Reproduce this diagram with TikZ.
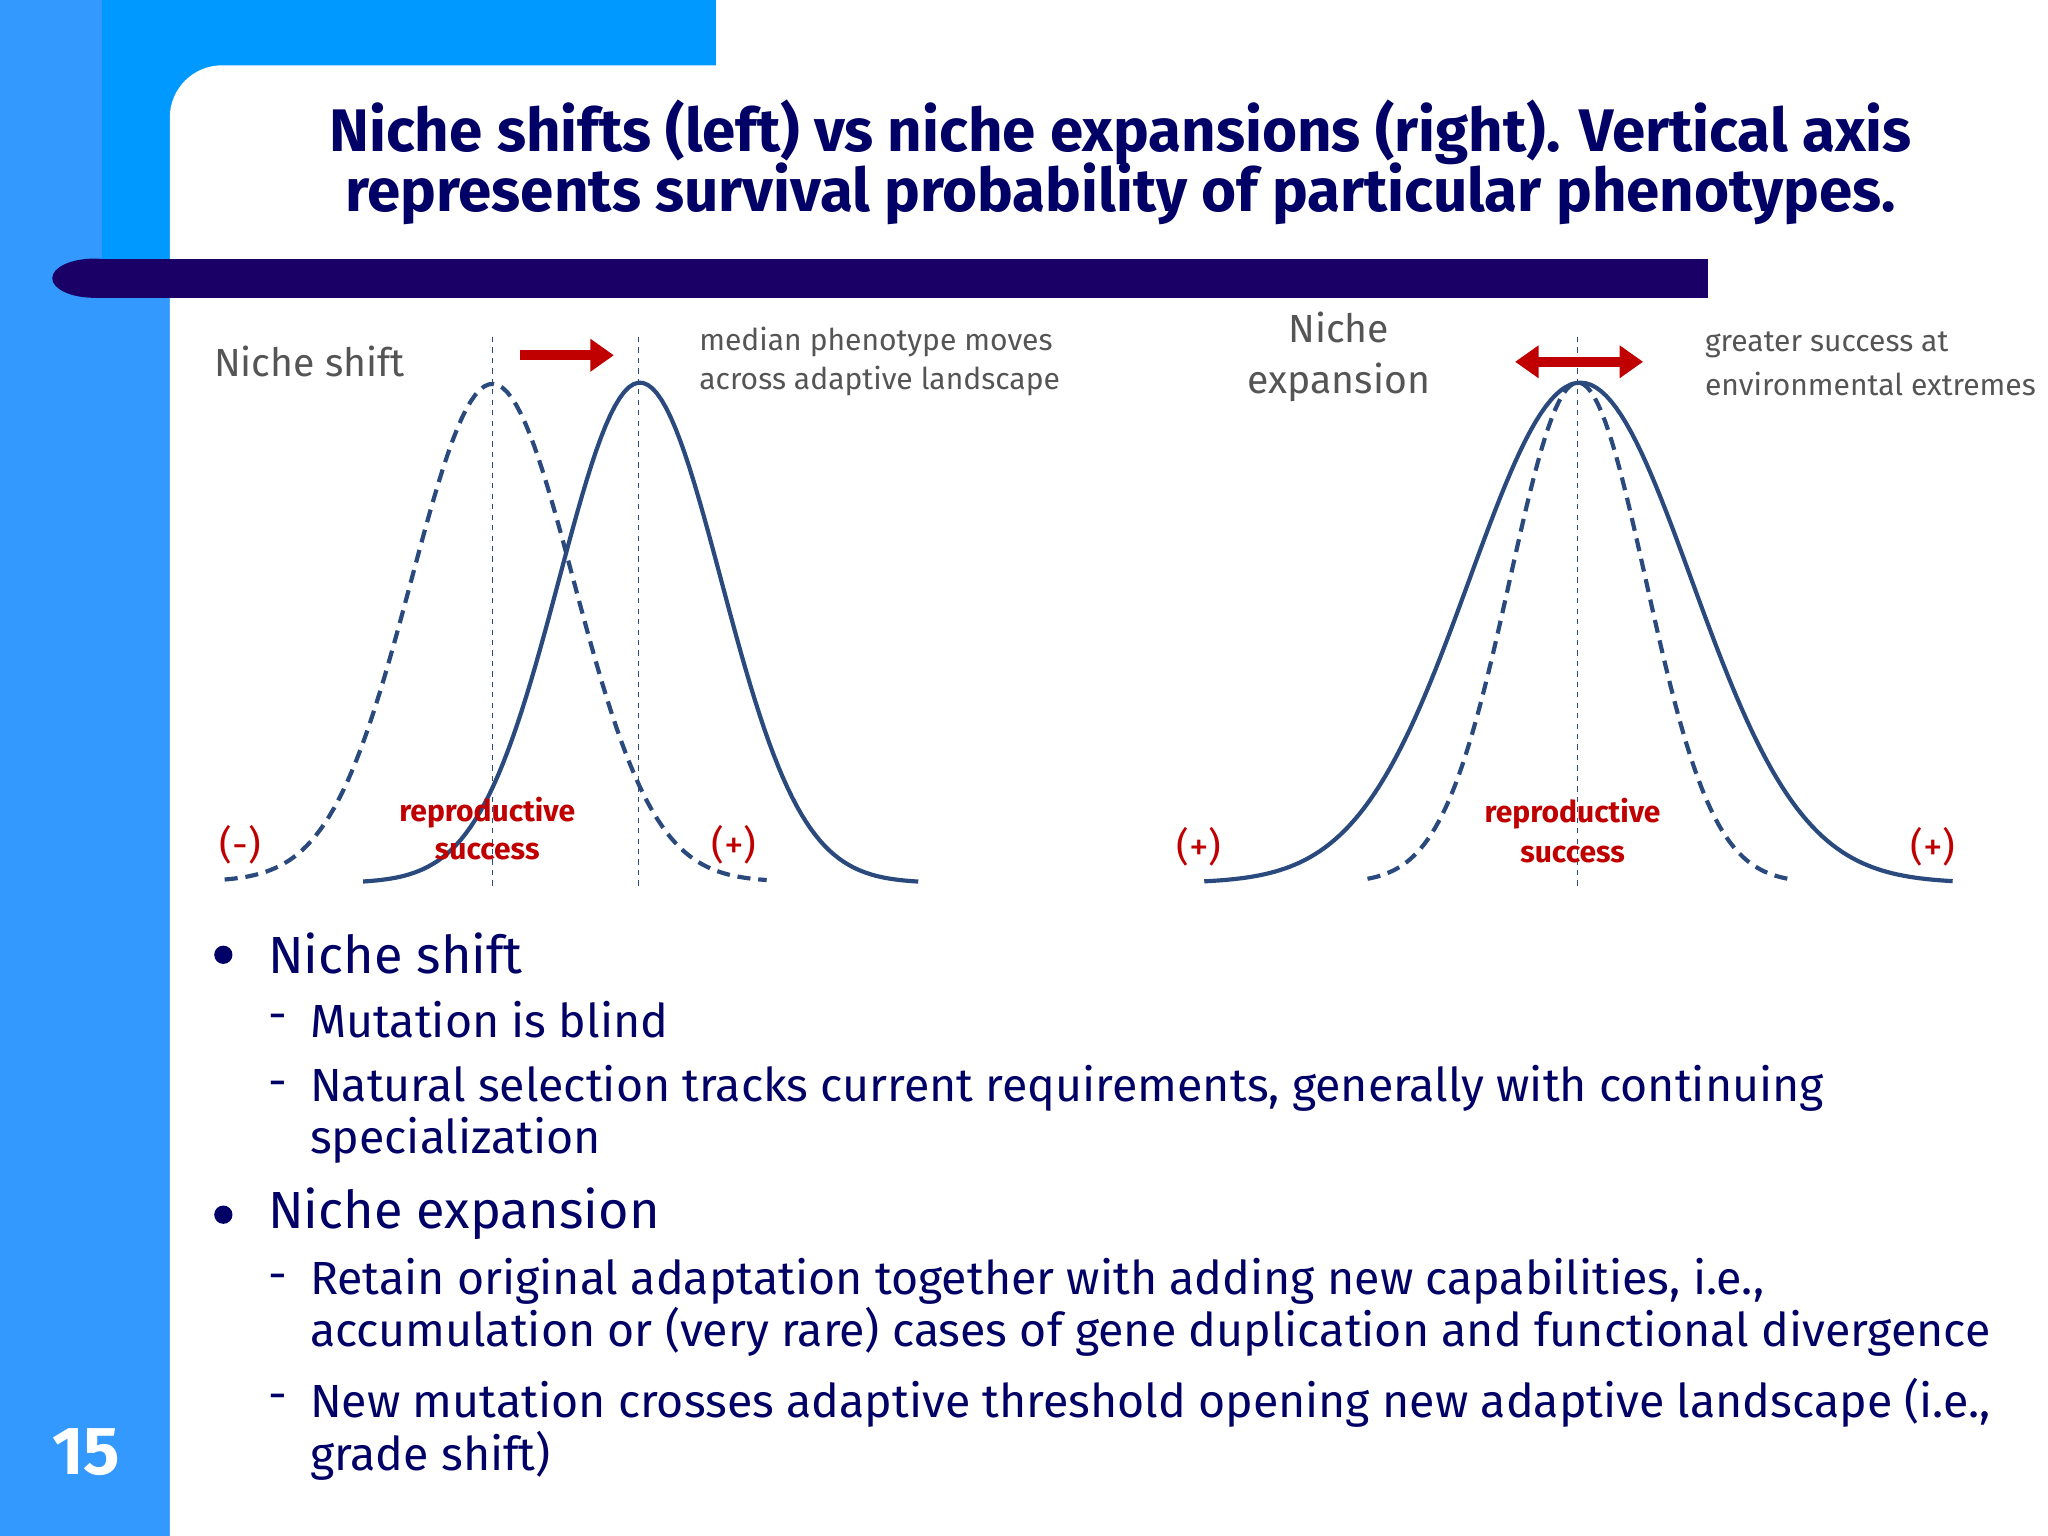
\documentclass[tikz,border=0pt]{standalone}
\usepackage{fontspec}
\setmainfont{Fira Sans}
\usetikzlibrary{arrows.meta}
\definecolor{blA}{HTML}{3399FF}
\definecolor{blB}{HTML}{0099FF}
\definecolor{navy}{HTML}{1A0066}
\definecolor{curve}{HTML}{2A4A7E}
\definecolor{txt}{HTML}{000066}
\definecolor{lbl}{HTML}{555555}
\definecolor{rs}{HTML}{C00000}
\tikzset{
 lab/.style={text=lbl,font=\fontsize{11.5}{14}\selectfont,anchor=west,inner sep=0},
 big/.style={text=lbl,font=\fontsize{15}{18}\selectfont,inner sep=0},
 rep/.style={text=rs,font=\bfseries\fontsize{11.5}{14}\selectfont,inner sep=0},
 sgn/.style={text=rs,font=\fontsize{15}{18}\selectfont,inner sep=0},
 bul/.style={text=txt,font=\fontsize{20}{24}\selectfont,anchor=west,inner sep=0},
 sub/.style={text=txt,font=\fontsize{17.8}{21}\selectfont,anchor=west,inner sep=0,align=left},
 dot/.style={circle,fill=txt,minimum size=7pt,inner sep=0},
 solidc/.style={curve,line width=1.6pt},
 dashc/.style={curve,line width=1.6pt,dash pattern=on 5pt off 3pt},
 vline/.style={curve,line width=0.4pt,dash pattern=on 2pt off 2pt},
 redarr/.style={rs,line width=4pt}
}
\begin{document}
\begin{tikzpicture}[x=0.5pt,y=-0.5pt]
\useasboundingbox (0,0) rectangle (1568,1176);
\fill[white] (0,0) rectangle (1568,1176);
\fill[blA] (0,0) rectangle (130,1176);
\fill[blB] (78,0) rectangle (548,200);
\fill[white] (130,1176) [rounded corners=20pt] -- (130,50) -- (1568,50) [sharp corners] -- (1568,1176) -- cycle;
\fill[navy] (70,198) rectangle (1308,228);
\fill[navy] (72,213) ellipse[x radius=32, y radius=15];
\node[text=txt,font=\bfseries\fontsize{23}{25}\selectfont,align=center] (title) at (858,124) {Niche shifts (left) vs niche expansions (right). Vertical axis\\[-2pt] represents survival probability of particular phenotypes.};
% curves
\draw[dashc] plot[domain=172:587,samples=120] (\x,{675-381*exp(-((\x-377)/62)^2/2)});
\draw[solidc] plot[domain=278:703,samples=120] (\x,{676-383*exp(-((\x-490)/62)^2/2)});
\draw[vline] (377,258) -- (377,678);
\draw[vline] (489,258) -- (489,678);
\draw[solidc] plot[domain=922:1495,samples=150] (\x,{676-383*exp(-((\x-1210)/85)^2/2)});
\draw[dashc] plot[domain=1047:1370,samples=120] (\x,{676-383*exp(-((\x-1208)/52)^2/2)});
\draw[vline] (1208,258) -- (1208,678);
\coordinate (a1) at (398,272); \coordinate (a2) at (470,272);
\draw[redarr,-{Triangle[length=9pt,width=12pt]}] (a1) -- (a2);
\coordinate (b1) at (1160,277); \coordinate (b2) at (1258,277);
\draw[redarr,{Triangle[length=9pt,width=12pt]}-{Triangle[length=9pt,width=12pt]}] (b1) -- (b2);
% labels
\node[big] (ns) at (237,277) {Niche shift};
\node[lab] (m1) at (535,262) {median phenotype moves};
\node[lab] (m2) at (535,292) {across adaptive landscape};
\node[lab] (g1) at (1305,264) {greater success at};
\node[lab] (g2) at (1305,294) {environmental extremes};
\node[big] (ne1) at (1025,251) {Niche};
\node[big] (ne2) at (1025,293) {expansion};
\node[rep] (r1) at (373,622) {reproductive};
\node[rep] (r2) at (373,652) {success};
\node[rep] (r3) at (1204,623) {reproductive};
\node[rep] (r4) at (1204,654) {success};
\node[sgn] (s1) at (184,647) {(-)};
\node[sgn] (s2) at (562,647) {(+)};
\node[sgn] (s3) at (918,648) {(+)};
\node[sgn] (s4) at (1480,648) {(+)};
% bullets
\node[dot] (d1) at (171,731) {};
\node[bul] (t1) at (205,730) {Niche shift};
\node[sub] (h1) at (205,783) {-};
\node[sub] (u1) at (237,781) {Mutation is blind};
\node[sub] (h2) at (205,834) {-};
\node[sub,anchor=north west] (u2) at (237,815) {Natural selection tracks current requirements, generally with continuing\\[-1pt]specialization};
\node[dot] (d2) at (171,930) {};
\node[bul] (t2) at (205,929) {Niche expansion};
\node[sub] (h3) at (205,982) {-};
\node[sub,anchor=north west] (u3) at (237,963) {Retain original adaptation together with adding new capabilities, i.e.,\\[-1pt]accumulation or (very rare) cases of gene duplication and functional divergence};
\node[sub] (h4) at (205,1074) {-};
\node[sub,anchor=north west] (u4) at (237,1055) {New mutation crosses adaptive threshold opening new adaptive landscape (i.e.,\\[-1pt]grade shift)};
\node[text=white,font=\bfseries\fontsize{26}{28}\selectfont] (pg) at (66,1112) {15};
\end{tikzpicture}
\end{document}
